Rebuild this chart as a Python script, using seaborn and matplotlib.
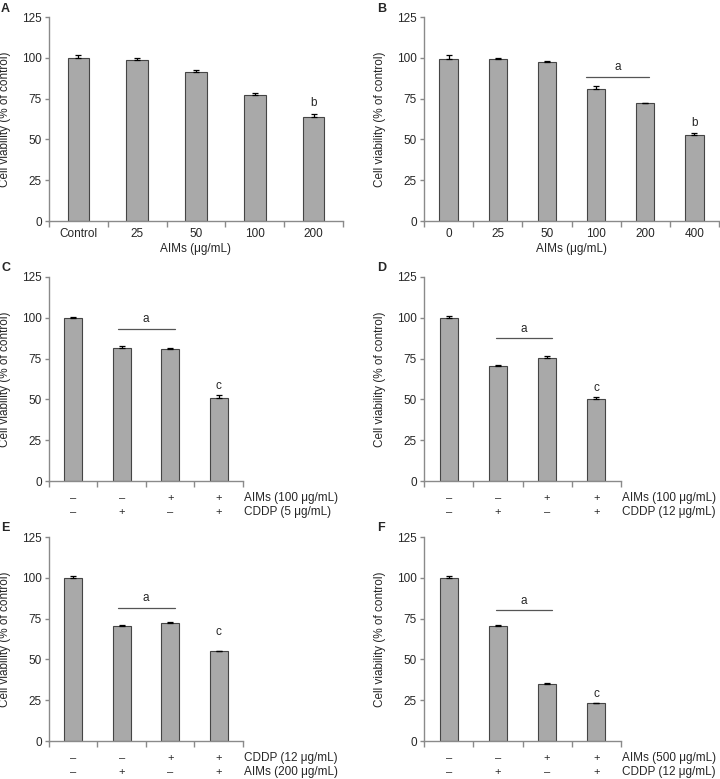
import matplotlib
matplotlib.use("Agg")
import matplotlib.pyplot as plt
import numpy as np
import pandas as pd
import seaborn as sns

# Panel A: AIMs dose response
a_labels = ["Control", "25", "50", "100", "200"]
a_mean = [100, 98.5, 91.5, 77, 64]
a_err = [2.0, 1.5, 1.3, 1.5, 1.5]

# Panel B: AIMs dose response
b_labels = ["0", "25", "50", "100", "200", "400"]
b_mean = [99.5, 99, 97.5, 81, 72, 53]
b_err = [2.0, 1.0, 0.6, 1.5, 0.4, 1.0]

# Panels C-F: combination treatments
c_mean = [100, 81.5, 81, 51]
c_err = [0.5, 1.0, 0.7, 1.5]
d_mean = [100, 70.5, 75.5, 50]
d_err = [1.0, 0.7, 1.2, 1.3]
e_mean = [100, 70.5, 72.5, 55]
e_err = [1.2, 0.5, 0.4, 0.3]
f_mean = [100, 70.5, 35, 23]
f_err = [1.0, 0.6, 0.4, 0.3]

row_top = ["–", "–", "+", "+"]
row_bottom = ["–", "+", "–", "+"]
c_rows = ["AIMs (100 μg/mL)", "CDDP (5 μg/mL)"]
d_rows = ["AIMs (100 μg/mL)", "CDDP (12 μg/mL)"]
e_rows = ["CDDP (12 μg/mL)", "AIMs (200 μg/mL)"]
f_rows = ["AIMs (500 μg/mL)", "CDDP (12 μg/mL)"]

yticks = [0, 25, 50, 75, 100, 125]

BAR = "#a9a9a9"
EDGE = "#454545"
SPINE = "#8a8a8a"

sns.set_style("ticks")
plt.rcParams["font.family"] = ["Liberation Sans", "DejaVu Sans"]
plt.rcParams["font.size"] = 8


def draw_bars(ax, means, errs, names):
    df = pd.DataFrame({"group": names, "value": means})
    sns.barplot(data=df, x="group", y="value", ax=ax, color=BAR, saturation=1,
                width=0.37, edgecolor=EDGE, linewidth=0.8, errorbar=None)
    n = len(means)
    ax.errorbar(range(n), means, yerr=[np.zeros(n), errs], fmt="none",
                ecolor="black", elinewidth=0.9, capsize=2.3, capthick=0.9)
    ax.set_xlim(-0.5, n - 0.5)
    ax.set_ylim(0, 125)
    ax.set_yticks(yticks)
    ax.set_xticks(np.arange(n + 1) - 0.5)
    ax.set_xticklabels([])
    ax.tick_params(axis="x", which="major", length=4, color=SPINE, width=1)
    ax.tick_params(axis="y", length=3, color=SPINE, width=1, labelsize=8.5, pad=2)
    for s in ["top", "right"]:
        ax.spines[s].set_visible(False)
    for s in ["left", "bottom"]:
        ax.spines[s].set_color(SPINE)
        ax.spines[s].set_linewidth(1)
    ax.set_xlabel("")
    ax.set_ylabel("Cell viability (% of control)", fontsize=8.5, labelpad=8)


def cat_labels(ax, labels):
    ax.set_xticks(range(len(labels)), labels, minor=True)
    ax.tick_params(axis="x", which="minor", length=0, labelsize=8.5, pad=5)
    ax.set_xlabel("AIMs (μg/mL)", fontsize=8.5, labelpad=2)


def sign_rows(ax, top, bottom, names, dy):
    tr = ax.get_xaxis_transform()
    for i, (t, b) in enumerate(zip(top, bottom)):
        ax.text(i, -dy[0], t, transform=tr, ha="center", va="center", fontsize=8)
        ax.text(i, -dy[1], b, transform=tr, ha="center", va="center", fontsize=8)
    ax.text(1.005, -dy[0], names[0], transform=ax.transAxes, ha="left", va="center", fontsize=8.5)
    ax.text(1.005, -dy[1], names[1], transform=ax.transAxes, ha="left", va="center", fontsize=8.5)


def sig_line(ax, x0, x1, y, ty, letter="a"):
    ax.plot([x0, x1], [y, y], color="#555555", lw=0.9)
    ax.text((x0 + x1) / 2, ty, letter, ha="center", va="center", fontsize=8.5)


fig = plt.figure(figsize=(7.2, 7.79), dpi=100)

W, H = 720, 779


def add_axes(left, right, top, bottom):
    return fig.add_axes([left / W, 1 - bottom / H, (right - left) / W, (bottom - top) / H])


axA = add_axes(49, 343, 17, 221)
axB = add_axes(424, 719, 17, 221)
axC = add_axes(49, 243, 277, 481)
axD = add_axes(424, 621, 277, 481)
axE = add_axes(49, 243, 537, 741)
axF = add_axes(424, 621, 537, 741)

# A
draw_bars(axA, a_mean, a_err, a_labels)
cat_labels(axA, a_labels)
axA.text(4, 72, "b", ha="center", va="center", fontsize=8.5)

# B
draw_bars(axB, b_mean, b_err, b_labels)
cat_labels(axB, b_labels)
sig_line(axB, 2.8, 4.08, 88, 94.5)
axB.text(5, 60, "b", ha="center", va="center", fontsize=8.5)

combo = ["g1", "g2", "g3", "g4"]
dy = (17 / 204, 31 / 204)

draw_bars(axC, c_mean, c_err, combo)
sign_rows(axC, row_top, row_bottom, c_rows, dy)
sig_line(axC, 0.92, 2.09, 93, 99)
axC.text(3, 58, "c", ha="center", va="center", fontsize=8.5)

draw_bars(axD, d_mean, d_err, combo)
sign_rows(axD, row_top, row_bottom, d_rows, dy)
sig_line(axD, 0.96, 2.09, 87.4, 93)
axD.text(3, 57, "c", ha="center", va="center", fontsize=8.5)

draw_bars(axE, e_mean, e_err, combo)
sign_rows(axE, row_top, row_bottom, e_rows, dy)
sig_line(axE, 0.92, 2.09, 81.6, 87.6)
axE.text(3, 66.7, "c", ha="center", va="center", fontsize=8.5)

draw_bars(axF, f_mean, f_err, combo)
sign_rows(axF, row_top, row_bottom, f_rows, dy)
sig_line(axF, 0.96, 2.09, 80, 85.5)
axF.text(3, 28.8, "c", ha="center", va="center", fontsize=8.5)

# panel letters
for letter, x, y in [("A", 1, 3), ("B", 377, 3), ("C", 1, 262), ("D", 377, 262),
                     ("E", 1, 522), ("F", 377, 522)]:
    fig.text(x / W, 1 - y / H, letter, ha="left", va="top", fontsize=9, fontweight="bold")

fig.savefig("out.png", dpi=100)
